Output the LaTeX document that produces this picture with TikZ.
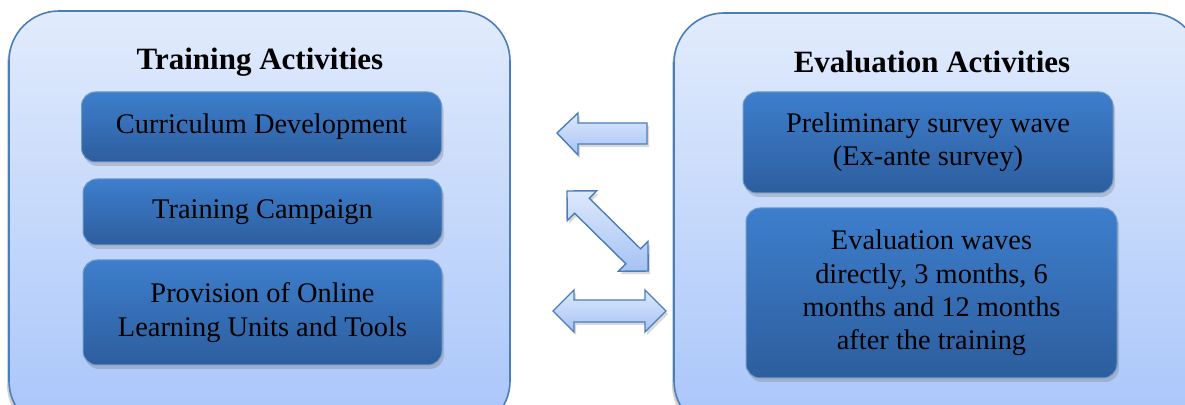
\documentclass[tikz,border=0pt]{standalone}
\usepackage{fontspec}
\setmainfont{Liberation Serif}
\usetikzlibrary{shadows}
\definecolor{edgeblue}{HTML}{4A7EBB}
\definecolor{outtop}{HTML}{E1EBFC}
\definecolor{outbot}{HTML}{A8C5FA}
\definecolor{intop}{HTML}{3D7ECC}
\definecolor{inbot}{HTML}{2D5E9E}
\definecolor{artop}{HTML}{DDE8FB}
\definecolor{arbot}{HTML}{A6C3F4}
\tikzset{
  outerbox/.style={draw=edgeblue, line width=0.8pt, rounded corners=25pt,
    top color=outtop, bottom color=outbot, inner sep=0pt,
    drop shadow={shadow xshift=-1pt, shadow yshift=-2pt, opacity=0.35}},
  innerbox/.style={draw=edgeblue!80!white, line width=0.5pt, rounded corners=7pt,
    top color=intop, bottom color=inbot, align=center, inner sep=2pt,
    font=\fontsize{14.2}{16.6}\selectfont,
    drop shadow={shadow xshift=1pt, shadow yshift=-2pt, opacity=0.35}},
  titletext/.style={font=\fontsize{15.5}{18}\selectfont\bfseries, inner sep=0pt},
  blockarrow/.style={draw=edgeblue, line width=0.7pt, line join=miter,
    top color=artop, bottom color=arbot,
    drop shadow={shadow xshift=1pt, shadow yshift=-1.5pt, opacity=0.3}}
}
\begin{document}
\begin{tikzpicture}[x=0.5pt, y=-0.5pt]
\useasboundingbox (0,0) rectangle (1185,405);
\clip (0,0) rectangle (1185,405);
% outer containers
\node[outerbox, minimum width=250.5pt, minimum height=210pt] (train) at (259.5,221) {};
\node[outerbox, minimum width=263pt, minimum height=209pt] (eval) at (937,222) {};
% titles
\node[titletext] (ttrain) at (260,62) {Training Activities};
\node[titletext] (teval) at (932,62) {Evaluation Activities};
% inner boxes
\node[innerbox, minimum width=180pt, minimum height=35pt] (curr) at (261.5,127) {Curriculum Development};
\node[innerbox, minimum width=179.5pt, minimum height=33pt] (camp) at (262.5,212) {Training Campaign};
\node[innerbox, minimum width=179.5pt, minimum height=52.5pt] (prov) at (262.5,312.5) {Provision of Online\\Learning Units and Tools};
\node[innerbox, minimum width=185pt, minimum height=50.5pt] (prel) at (928,142.5) {Preliminary survey wave\\(Ex-ante survey)};
\node[innerbox, minimum width=185.5pt, minimum height=85pt] (waves) at (931.5,293) {Evaluation waves\\directly, 3 months, 6\\months and 12 months\\after the training};
% arrows
\coordinate (a1) at (557,133);
\path[blockarrow] (a1) -- (578,113) -- (578,123) -- (647,123) -- (647,144) -- (578,144) -- (578,155) -- cycle;
\coordinate (a3) at (553,311);
\path[blockarrow] (a3) -- (574,290) -- (574,300) -- (645,300) -- (645,290) -- (666,311) -- (645,332) -- (645,322) -- (574,322) -- (574,332) -- cycle;
\coordinate (a2) at (567,191);
\begin{scope}[shift={(a2)}, rotate=-44.6]
\path[blockarrow] (0,0) -- (21,-21) -- (21,-10.5) -- (93,-10.5) -- (93,-21) -- (114,0) -- (93,21) -- (93,10.5) -- (21,10.5) -- (21,21) -- cycle;
\end{scope}
\end{tikzpicture}
\end{document}
